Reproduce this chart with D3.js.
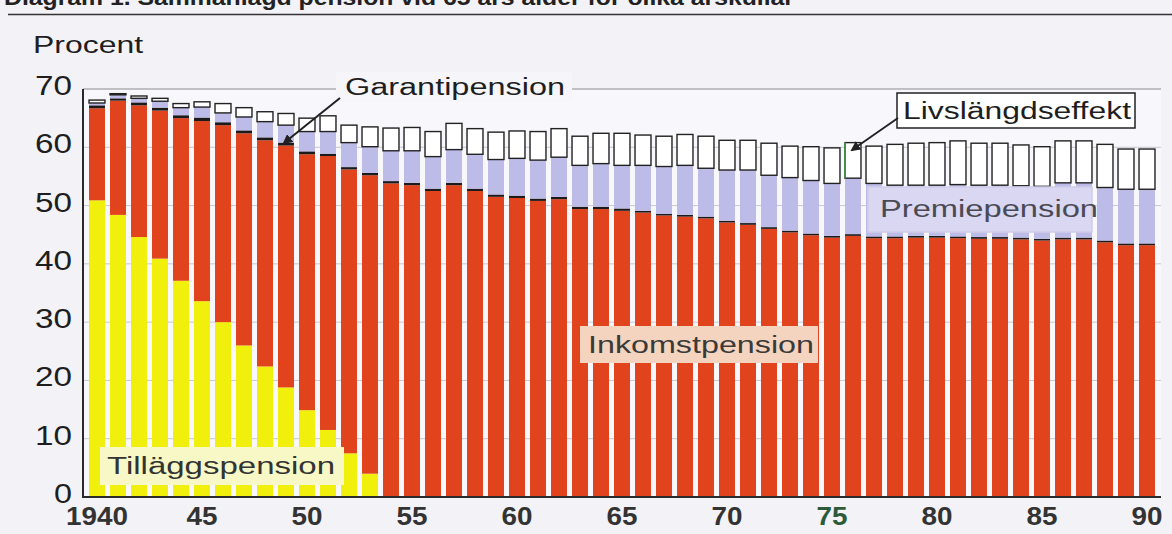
<!DOCTYPE html>
<html>
<head>
<meta charset="utf-8">
<script src="https://cdn.jsdelivr.net/npm/d3@7"></script>
<style>
body { margin: 0; background: #f3f2f7; }
svg { display: block; font-family: "Liberation Sans", Arial, sans-serif; }
</style>
</head>
<body>
<svg id="chart" width="1172" height="534"></svg>
<script>
const years = [1940,1941,1942,1943,1944,1945,1946,1947,1948,1949,1950,1951,1952,1953,1954,1955,1956,1957,1958,1959,
    1960,1961,1962,1963,1964,1965,1966,1967,1968,1969,1970,1971,1972,1973,1974,1975,1976,1977,1978,1979,
    1980,1981,1982,1983,1984,1985,1986,1987,1988,1989,1990];

// Tilläggspension (gul)
const tillagg = [50.9,48.4,44.6,40.9,37.1,33.6,30.0,26.0,22.4,18.8,14.9,11.5,7.5,4.0,
    0,0,0,0,0,0,0,0,0,0,0,0,0,0,0,0,0,0,0,0,0,0,0,0,0,0,0,0,0,0,0,0,0,0,0,0,0];
// Inkomstpension (röd)
const inkomst = [15.8,19.6,22.6,25.4,27.9,30.9,33.8,36.4,38.8,41.5,43.9,47.0,48.7,51.2,
    53.8,53.5,52.5,53.5,52.5,51.5,51.3,50.8,51.1,49.4,49.4,49.1,
    48.8,48.3,48.1,47.8,47.1,46.7,46.0,45.4,44.9,44.5,44.8,44.4,44.4,44.5,44.5,44.4,44.3,44.3,44.2,44.0,44.2,44.2,43.7,43.2,43.2];
// Garantipension (svart)
const garanti = [0.5,0.4,0.5,0.5,0.5,0.6,0.5,0.5,0.5,0.5,0.5,0.4,0.4,0.4,
    0.4,0.4,0.4,0.4,0.4,0.4,0.4,0.4,0.4,0.4,0.4,0.4,
    0.3,0.3,0.3,0.3,0.3,0.3,0.3,0.3,0.3,0.3,0.3,0.3,0.3,0.3,0.3,0.3,0.3,0.3,0.3,0.3,0.3,0.3,0.3,0.3,0.3];
// Premiepension (lila)
const premie = [0.4,0.6,0.7,1.1,1.3,1.8,1.6,2.3,2.7,3.0,3.4,3.8,4.2,4.5,
    5.2,5.5,5.5,5.7,5.9,6.0,6.4,6.6,6.8,7.1,7.4,7.4,
    7.8,8.1,8.5,8.3,8.7,9.1,8.9,9.1,9.1,9.0,9.6,9.1,8.8,8.7,8.7,8.9,8.9,8.9,8.9,9.0,9.4,9.4,9.1,9.3,9.3];
// Livslängdseffekt (vit)
const livs = [0.5,0.2,0.4,0.5,0.7,0.9,1.6,1.6,1.7,2.0,2.3,2.7,3.0,3.4,
    3.9,4.0,4.3,4.5,4.4,4.7,4.7,4.9,4.9,5.0,5.2,5.5,
    5.2,5.2,5.3,5.5,5.1,5.1,5.5,5.4,5.8,6.1,6.1,6.4,7.0,7.2,7.3,7.5,7.2,7.2,7.0,6.8,7.2,7.2,7.4,6.9,6.9];

const yTicks = [0,10,20,30,40,50,60,70];
const xTickYears = [1940,1945,1950,1955,1960,1965,1970,1975,1980,1985,1990];
const xTickLabels = ["1940","45","50","55","60","65","70","75","80","85","90"];

const keys = ["tillagg","inkomst","garanti","premie","livs"];
const colors = {
    tillagg: "#f0f00c",
    inkomst: "#e1431d",
    garanti: "#1c1a1a",
    premie: "#bdbbe7",
    livs: "#ffffff"
};

const svg = d3.select("#chart");
const plotLeft = 83, plotRight = 1161, plotTop = 89, plotBottom = 497;

const x = d3.scaleBand()
    .domain(years)
    .range([86.5, 1157.5])
    .paddingInner(0.24)
    .paddingOuter(0.12);

const y = d3.scaleLinear()
    .domain([0, 70])
    .range([plotBottom, plotTop]);

const rows = years.map((year, i) => ({
    year: year,
    tillagg: tillagg[i],
    inkomst: inkomst[i],
    garanti: garanti[i],
    premie: premie[i],
    livs: livs[i]
}));

// the title sits above the top edge, only its lower part shows (as in the scan)
function drawTitle(){
    svg.append("text")
        .text("Diagram 1. Sammanlagd pension vid 65 års ålder för olika årskullar")
        .attr("x", 4)
        .attr("y", 5)
        .attr("font-size", "22px")
        .attr("font-weight", "bold")
        .attr("fill", "#222")
        .attr("textLength", 790)
        .attr("lengthAdjust", "spacingAndGlyphs");
    svg.append("line")
        .attr("x1", 8).attr("x2", 1172)
        .attr("y1", 14.5).attr("y2", 14.5)
        .attr("stroke", "#333")
        .attr("stroke-width", 1.6);
};

function drawFrame(){
    svg.append("rect")
        .attr("x", plotLeft).attr("y", plotTop)
        .attr("width", plotRight - plotLeft).attr("height", plotBottom - plotTop)
        .attr("fill", "#f8f7fb");

    svg.append("g")
        .selectAll("line")
        .data(yTicks.filter(t => t > 0 && t < 70))
        .join("line")
        .attr("x1", plotLeft).attr("x2", plotRight)
        .attr("y1", t => y(t)).attr("y2", t => y(t))
        .attr("stroke", "#c9c7d2")
        .attr("stroke-width", 1);

    svg.append("line")
        .attr("x1", plotLeft).attr("x2", plotRight)
        .attr("y1", plotTop).attr("y2", plotTop)
        .attr("stroke", "#8a8a90")
        .attr("stroke-width", 1);
};

function drawBars(){
    const series = d3.stack().keys(keys)(rows);

    svg.append("g")
        .selectAll("g")
        .data(series)
        .join("g")
        .attr("fill", s => colors[s.key])
        .selectAll("rect")
        .data(s => s.map(d => Object.assign(d, { key: s.key })))
        .join("rect")
        .attr("x", d => x(d.data.year))
        .attr("width", x.bandwidth())
        .attr("y", d => y(d[1]))
        .attr("height", d => Math.max(0, y(d[0]) - y(d[1])))
        .attr("stroke", d => d.key === "livs" ? "#222" : "none")
        .attr("stroke-width", 1.4);

    // green edge on the 1976 box, as in the scan
    const marked = series[series.length - 1].find(d => d.data.year === 1976);
    svg.append("line")
        .attr("x1", x(1976)).attr("x2", x(1976))
        .attr("y1", y(marked[1])).attr("y2", y(marked[0]))
        .attr("stroke", "#3d9a45")
        .attr("stroke-width", 1.6);
};

function drawAxes(){
    svg.append("line")
        .attr("x1", plotLeft).attr("x2", plotLeft)
        .attr("y1", plotTop).attr("y2", plotBottom)
        .attr("stroke", "#2a2a2a").attr("stroke-width", 2);
    svg.append("line")
        .attr("x1", plotLeft - 1).attr("x2", plotRight)
        .attr("y1", plotBottom).attr("y2", plotBottom)
        .attr("stroke", "#2a2a2a").attr("stroke-width", 2);

    svg.append("g")
        .selectAll("text")
        .data(yTicks)
        .join("text")
        .text(t => t)
        .attr("x", 72)
        .attr("y", t => y(t) + 6)
        .attr("text-anchor", "end")
        .attr("font-size", "28px")
        .attr("fill", "#1e1e1e")
        .attr("textLength", t => t === 0 ? 18 : 37)
        .attr("lengthAdjust", "spacingAndGlyphs");

    svg.append("text")
        .text("Procent")
        .attr("x", 33)
        .attr("y", 53)
        .attr("font-size", "23px")
        .attr("fill", "#1e1e1e")
        .attr("textLength", 110)
        .attr("lengthAdjust", "spacingAndGlyphs");

    svg.append("g")
        .selectAll("text")
        .data(xTickYears)
        .join("text")
        .text((yr, i) => xTickLabels[i])
        .attr("x", yr => x(yr) + x.bandwidth() / 2)
        .attr("y", 525)
        .attr("text-anchor", "middle")
        .attr("font-size", "25px")
        .attr("font-weight", "bold")
        .attr("fill", yr => yr === 1975 ? "#2f5a3a" : "#333")
        .attr("textLength", (yr, i) => xTickLabels[i].length === 4 ? 62 : 31)
        .attr("lengthAdjust", "spacingAndGlyphs");
};

function addLabel(label, box, textX, textY, textWidth, boxFill, boxStroke, textFill){
    svg.append("rect")
        .attr("x", box[0]).attr("y", box[1])
        .attr("width", box[2]).attr("height", box[3])
        .attr("fill", boxFill)
        .attr("stroke", boxStroke || "none")
        .attr("stroke-width", 1.5);
    svg.append("text")
        .text(label)
        .attr("x", textX)
        .attr("y", textY)
        .attr("font-size", "23px")
        .attr("fill", textFill)
        .attr("textLength", textWidth)
        .attr("lengthAdjust", "spacingAndGlyphs");
};

function addArrow(x1, y1, x2, y2){
    svg.append("line")
        .attr("x1", x1).attr("y1", y1)
        .attr("x2", x2).attr("y2", y2)
        .attr("stroke", "#222")
        .attr("stroke-width", 2)
        .attr("marker-end", "url(#arrowhead)");
};

function drawAnnotations(){
    svg.append("defs").append("marker")
        .attr("id", "arrowhead")
        .attr("viewBox", "0 0 10 10")
        .attr("refX", 8).attr("refY", 5)
        .attr("markerWidth", 5).attr("markerHeight", 5)
        .attr("orient", "auto")
        .append("path")
        .attr("d", "M0,0 L10,5 L0,10 Z")
        .attr("fill", "#222");

    addLabel("Garantipension", [336, 72, 236, 30], 345, 95, 220, "#f6f5f9", null, "#1e1e1e");
    addArrow(340, 98, 284, 143);

    addLabel("Livslängdseffekt", [897, 93, 238, 35], 903, 119, 228, "#ffffff", "#222", "#1e1e1e");
    addArrow(898, 118, 852, 150);

    addLabel("Premiepension", [868, 187, 224, 45], 880, 217, 218, "#d9d7f1", "#cfcde9", "#4a4a55");
    addLabel("Inkomstpension", [580, 326, 238, 37], 588, 353, 226, "#f5d4bf", null, "#3a3a3a");
    addLabel("Tilläggspension", [100, 447, 244, 38], 107, 474, 228, "#f7f8c6", null, "#333");
};

drawTitle();
drawFrame();
drawBars();
drawAxes();
drawAnnotations();
</script>
</body>
</html>
